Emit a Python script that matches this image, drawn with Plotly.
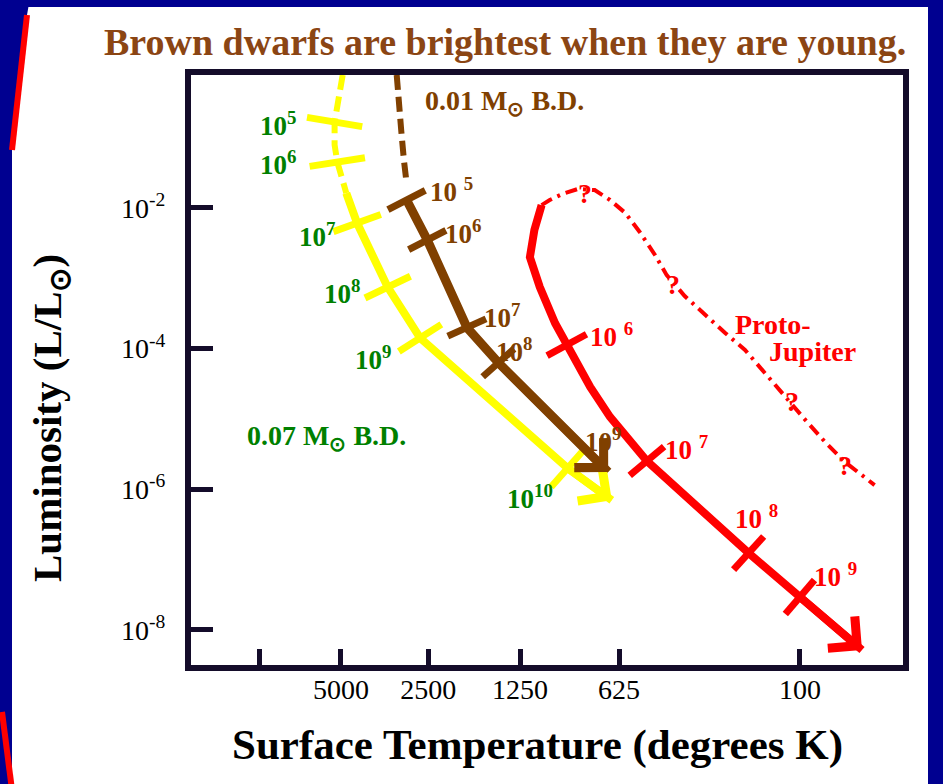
import numpy as np
import plotly.graph_objects as go

# ---------------- data ----------------
# x is the position along the schematic temperature axis, in tick steps
XTICK_POS = [0, 0.91, 1.88, 2.9, 4.0, 6.01]
XTICK_TEXT = ["", "5000", "2500", "1250", "625", "100"]
YTICK_VALS = [1e-2, 1e-4, 1e-6, 1e-8]
YTICK_TEXT = ["10<sup>-2</sup>", "10<sup>-4</sup>", "10<sup>-6</sup>", "10<sup>-8</sup>"]

# 0.07 Msun brown dwarf (yellow track)
BD07_EARLY_T = [0.93, 0.88, 0.84, 0.84, 0.87, 0.97]
BD07_EARLY_L = [0.78, 0.34, 0.167, 0.079, 0.045, 0.0163]
BD07_EARLY_TICK = [False, False, True, False, True, False]
BD07_T = [0.97, 1.09, 1.43, 1.79, 3.43, 3.92]
BD07_L = [0.0163, 6.1e-3, 7.5e-4, 1.42e-4, 2.0e-6, 7.0e-7]
BD07_TICK = [False, True, True, True, True, False]

# 0.01 Msun brown dwarf (brown track)
BD01_EARLY_T = [1.53, 1.56, 1.58, 1.61, 1.64]
BD01_EARLY_L = [0.78, 0.34, 0.128, 0.048, 0.0226]
BD01_T = [1.64, 1.87, 2.31, 2.66, 3.88]
BD01_L = [0.013, 3.5e-3, 2.0e-4, 6.3e-5, 1.76e-6]
BD01_TICK = [True, True, True, True, False]

# Proto-Jupiter (red track)
JUP_T = [3.14, 3.06, 3.01, 3.12, 3.29, 3.42, 3.68, 3.90, 4.31, 5.44, 6.01, 6.70]
JUP_L = [0.011, 4.9e-3, 2.0e-3, 7.5e-4, 2.3e-4, 1.13e-4, 2.85e-5, 1.07e-5,
         2.53e-6, 1.24e-7, 2.94e-8, 5.2e-9]
JUP_TICK = [False, False, False, False, False, True, False, False, True, True, True, False]
JUP_EARLY_T = [3.14, 3.23, 3.37, 3.54, 3.73, 3.90, 4.07, 4.23, 4.40, 4.53,
               4.73, 4.96, 5.18, 5.40, 5.62, 5.84, 6.07, 6.29, 6.51, 6.84]
JUP_EARLY_L = [0.011, 0.013, 0.0158, 0.0186, 0.018, 0.013, 8.5e-3, 4.56e-3,
               2.15e-3, 1.11e-3, 5.6e-4, 3.0e-4, 1.67e-4, 9.6e-5, 4.5e-5,
               2.06e-5, 9.7e-6, 4.7e-6, 2.45e-6, 1.15e-6]

# age labels (years)
BD07_LABEL_T = [-0.01, -0.01, 0.42, 0.70, 1.04, 2.73]
BD07_LABEL_L = [0.156, 0.0437, 4.1e-3, 6.4e-4, 7.4e-5, 7.8e-7]
BD07_LABEL_TEXT = ["10<sup>5</sup>", "10<sup>6</sup>", "10<sup>7</sup>",
                   "10<sup>8</sup>", "10<sup>9</sup>", "10<sup>10</sup>"]
BD01_LABEL_T = [1.88, 2.04, 2.48, 2.61, 3.60]
BD01_LABEL_L = [0.018, 4.6e-3, 2.9e-4, 9.6e-5, 5.0e-6]
BD01_LABEL_TEXT = ["10 <sup>5</sup>", "10<sup>6</sup>", "10<sup>7</sup>",
                   "10<sup>8</sup>", "10<sup>9</sup>"]
JUP_LABEL_T = [3.66, 4.49, 5.27, 6.14]
JUP_LABEL_L = [1.56e-4, 3.9e-6, 4.0e-7, 6.05e-8]
JUP_LABEL_TEXT = ["10 <sup>6</sup>", "10 <sup>7</sup>", "10 <sup>8</sup>", "10 <sup>9</sup>"]
QMARK_T = [3.62, 4.60, 5.92, 6.51]
QMARK_L = [0.0163, 8.3e-4, 1.75e-5, 2.15e-6]

NAME_TEXT = ["0.01 M<sub>⊙</sub> B.D.", "0.07 M<sub>⊙</sub> B.D.", "Proto-", "Jupiter"]
NAME_T = [1.82, -0.16, 5.27, 5.64]
NAME_L = [0.321, 5.37e-6, 2.17e-4, 8.97e-5]

TITLE = "Brown dwarfs are brightest when they are young."
XTITLE = "Surface Temperature (degrees K)"
YTITLE = "Luminosity (L/L<sub>⊙</sub>)"

# ---------------- styling ----------------
YELLOW = "#FFFF00"
BROWN = "#804000"
RED = "#FF0000"
GREEN = "#008000"
FRAME = "#140c2a"
NAVY = "#000090"
SERIF = "Liberation Serif, Times New Roman, serif"

W, H = 943, 784
ML, MR, MT, MB = 191, 40, 75, 119
PW, PH = W - ML - MR, H - MT - MB
XR = [(ML - 259) / 90, (W - MR - 259) / 90]
YR = [-8.498, -0.109]


def px(xp):
    return (xp - ML) / PW


def py(yp):
    return (H - MB - yp) / PH


def to_screen(t, l):
    sx = ML + (np.asarray(t, float) - XR[0]) / (XR[1] - XR[0]) * PW
    sy = MT + (YR[1] - np.log10(np.asarray(l, float))) / (YR[1] - YR[0]) * PH
    return sx, sy


def tick_angles(t, l):
    """Angle (deg, clockwise) that turns a horizontal bar perpendicular to the track."""
    sx, sy = to_screen(t, l)
    n = len(sx)
    ang = []
    for i in range(n):
        a, b = max(i - 1, 0), min(i + 1, n - 1)
        if i > 0:
            a, b = i - 1, i
        dx, dy = sx[b] - sx[a], sy[b] - sy[a]
        ang.append(float(np.degrees(np.arctan2(dx, -dy))))
    return ang


fig = go.Figure()


def track(t, l, color, width, dash="solid", ticks=None, ticksize=34):
    fig.add_trace(go.Scatter(
        x=t, y=l, mode="lines",
        line=dict(color=color, width=width, dash=dash),
        hoverinfo="skip", showlegend=False))
    if ticks:
        ang = tick_angles(t, l)
        idx = [i for i, f in enumerate(ticks) if f]
        fig.add_trace(go.Scatter(
            x=[t[i] for i in idx], y=[l[i] for i in idx], mode="markers",
            marker=dict(symbol="line-ew", size=ticksize, angle=[ang[i] for i in idx],
                        opacity=1, color=color, line=dict(color=color, width=7)),
            hoverinfo="skip", showlegend=False))


track(BD07_EARLY_T, BD07_EARLY_L, YELLOW, 6, "15px,7px", BD07_EARLY_TICK, 40)
track(BD07_T, BD07_L, YELLOW, 8, "solid", BD07_TICK, 36)
track(BD01_EARLY_T, BD01_EARLY_L, BROWN, 6, "15px,7px")
track(BD01_T, BD01_L, BROWN, 9, "solid", BD01_TICK, 30)
track(JUP_EARLY_T, JUP_EARLY_L, RED, 4, "12px,6px,3px,6px")
track(JUP_T, JUP_L, RED, 8, "solid", JUP_TICK, 32)

annotations = []
# arrowheads at the end of each track
for t, l, c in [(BD07_T, BD07_L, YELLOW), (BD01_T, BD01_L, BROWN), (JUP_T, JUP_L, RED)]:
    annotations.append(dict(
        x=t[-1], y=np.log10(l[-1]), ax=t[-2], ay=np.log10(l[-2]),
        xref="x", yref="y", axref="x", ayref="y", text="",
        showarrow=True, arrowhead=4, arrowsize=1.0, arrowwidth=8, arrowcolor=c,
        standoff=0))


def label(x, l, text, color, size):
    annotations.append(dict(
        x=x, y=np.log10(l), xref="x", yref="y", text=text, showarrow=False,
        xanchor="left", yanchor="middle",
        font=dict(family=SERIF, size=size, color=color, weight="bold")))


for x, l, s in zip(BD07_LABEL_T, BD07_LABEL_L, BD07_LABEL_TEXT):
    label(x, l, s, GREEN, 27)
for x, l, s in zip(BD01_LABEL_T, BD01_LABEL_L, BD01_LABEL_TEXT):
    label(x, l, s, BROWN, 27)
for x, l, s in zip(JUP_LABEL_T, JUP_LABEL_L, JUP_LABEL_TEXT):
    label(x, l, s, RED, 27)
for x, l in zip(QMARK_T, QMARK_L):
    annotations.append(dict(
        x=x, y=np.log10(l), xref="x", yref="y", text="?", showarrow=False,
        font=dict(family=SERIF, size=28, color=RED, weight="bold")))
for x, l, s, c in zip(NAME_T, NAME_L, NAME_TEXT, [BROWN, GREEN, RED, RED]):
    label(x, l, s, c, 28)

# titles
annotations.append(dict(x=px(505), y=py(42), xref="paper", yref="paper", text=TITLE,
                        showarrow=False, xanchor="center", yanchor="middle",
                        font=dict(family=SERIF, size=38, color="#8B4513", weight="bold")))
annotations.append(dict(x=px(537), y=py(745), xref="paper", yref="paper", text=XTITLE,
                        showarrow=False, xanchor="center", yanchor="middle",
                        font=dict(family=SERIF, size=43, color="black", weight="bold")))
annotations.append(dict(x=px(50), y=py(418), xref="paper", yref="paper", text=YTITLE,
                        showarrow=False, xanchor="center", yanchor="middle", textangle=-90,
                        font=dict(family=SERIF, size=41, color="black", weight="bold")))

shapes = [
    dict(type="rect", xref="paper", yref="paper", layer="below",
         x0=px(12), x1=px(928), y0=py(7), y1=py(790),
         fillcolor="white", line=dict(width=0)),
    dict(type="path", xref="paper", yref="paper", layer="below",
         path=f"M {px(-2)} {py(-2)} L {px(30)} {py(-2)} L {px(27)} {py(15)} L {px(12)} {py(150)} L {px(-2)} {py(150)} Z",
         fillcolor=NAVY, line=dict(width=0)),
    dict(type="line", xref="paper", yref="paper",
         x0=px(27), y0=py(15), x1=px(12), y1=py(150),
         line=dict(color=RED, width=6)),
    dict(type="line", xref="paper", yref="paper",
         x0=px(2), y0=py(712), x1=px(12), y1=py(790),
         line=dict(color=RED, width=6)),
]

axis_common = dict(showgrid=False, zeroline=False, showline=True, linewidth=6,
                   linecolor=FRAME, mirror=True, ticks="inside", tickcolor=FRAME,
                   tickfont=dict(family=SERIF, size=28, color="black"))

fig.update_layout(
    width=W, height=H, autosize=False,
    margin=dict(l=ML, r=MR, t=MT, b=MB, pad=0),
    paper_bgcolor=NAVY, plot_bgcolor="white",
    showlegend=False,
    xaxis=dict(range=XR, tickvals=XTICK_POS,
               ticktext=XTICK_TEXT, ticklen=16, tickwidth=5, ticklabelstandoff=-6,
               **axis_common),
    yaxis=dict(type="log", range=YR, tickvals=YTICK_VALS,
               ticktext=YTICK_TEXT, ticklen=22, tickwidth=5, ticklabelstandoff=14,
               **axis_common),
    annotations=annotations,
    shapes=shapes,
)

fig.write_html("out.html")
